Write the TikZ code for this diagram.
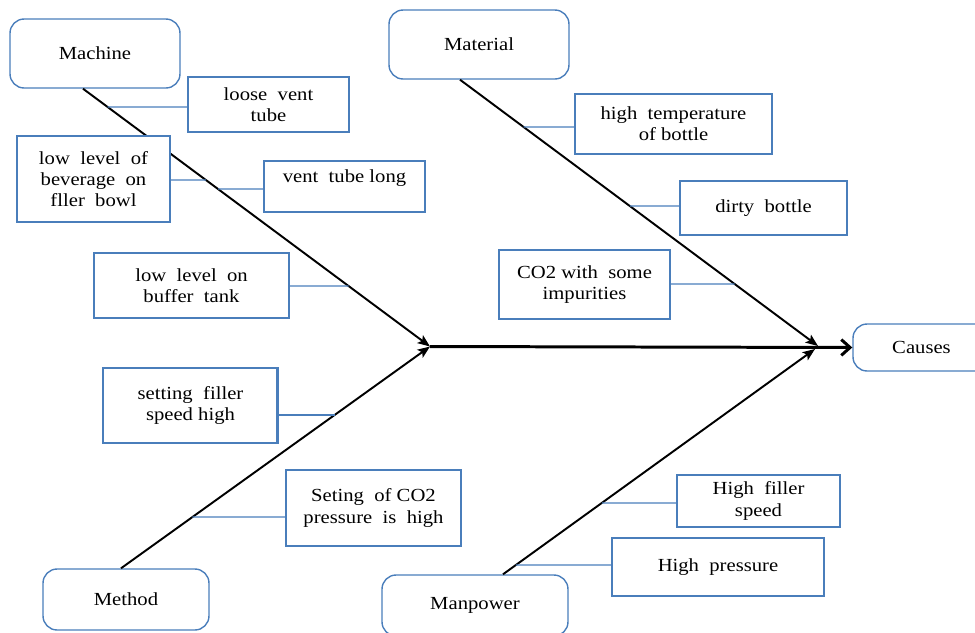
\documentclass[tikz,border=0pt]{standalone}
\usepackage{fontspec}
\setmainfont[FakeStretch=1.12]{Liberation Serif}
\usetikzlibrary{arrows.meta}
\definecolor{boxblue}{HTML}{4A7EBB}
\newcommand\branchline[4]{%
  \path (#1 |- 0,#2) coordinate (ba) (0,#2) coordinate (bb);
  \draw[branch] (ba) -- (intersection of #3--#4 and ba--bb);}
\begin{document}
\begin{tikzpicture}[x=0.02cm,y=-0.02cm,
  font=\fontsize{10.5}{12}\selectfont,
  cat/.style={draw=boxblue,line width=0.8pt,rounded corners=8pt,fill=white,inner sep=0pt,align=center},
  cause/.style={draw=boxblue,line width=0.8pt,fill=white,inner sep=0pt,align=center},
  bone/.style={line width=1.1pt,-{Stealth[length=7pt,width=5.5pt,inset=1.5pt]}},
  spine/.style={line width=1.7pt,-{Straight Barb[length=5pt,width=9pt]}},
  branch/.style={draw=boxblue,line width=0.6pt}]
\useasboundingbox (0,0) rectangle (975,633);
\clip (0,0) rectangle (975,633);

% category boxes
\node[cat,minimum width=3.4cm,minimum height=1.38cm] (machine) at (95,53.5) {Machine};
\node[cat,minimum width=3.6cm,minimum height=1.38cm] (material) at (479,44.5) {Material};
\node[cat,minimum width=3.32cm,minimum height=1.22cm] (method) at (126,599.5) {Method};
\node[cat,minimum width=3.72cm,minimum height=1.22cm] (manpower) at (475,605.5) {Manpower};
\node[cat,minimum width=2.74cm,minimum height=0.94cm] (causes) at (921.5,347.5) {Causes};

% bone coordinates
\coordinate (m0) at ([xshift=-0.24cm]machine.south);
\coordinate (ma0) at ([xshift=-0.38cm]material.south);
\coordinate (me0) at ([xshift=-0.1cm]method.north);
\coordinate (mp0) at ([xshift=0.56cm]manpower.north);
\coordinate (hd) at (430,346.5);
\coordinate (tl) at (818,346);
\coordinate (tl2) at (815,349);

\draw[bone] (m0) -- (hd);
\draw[bone] (me0) -- (hd);
\draw[bone] (ma0) -- (tl);
\draw[bone] (mp0) -- (tl2);
\draw[spine] (hd) -- (causes.west);

% cause boxes
\node[cause,minimum width=3.22cm,minimum height=1.1cm] (loose) at (268.5,104.5) {loose\ \ vent\\tube};
\node[cause,minimum width=3.06cm,minimum height=1.72cm] (bev) at (93.5,179) {low\ \ level\ \ of\\beverage\ \ on\\fller\ \ bowl};
\node[cause,minimum width=3.22cm,minimum height=1.02cm] (vlong) at (344.5,186.5) {vent\ \ tube long\\\mbox{}};
\node[cause,minimum width=3.9cm,minimum height=1.3cm] (buffer) at (191.5,285.5) {low\ \ level\ \ on\\buffer\ \ tank};
\node[cause,minimum width=3.94cm,minimum height=1.2cm] (htemp) at (673.5,124) {high\ \ temperature\\of bottle};
\node[cause,minimum width=3.34cm,minimum height=1.08cm] (dirty) at (763.5,208) {dirty\ \ bottle};
\node[cause,minimum width=3.42cm,minimum height=1.38cm] (co2imp) at (584.5,284.5) {CO2 with\ \ some\\impurities};
\node[cause,minimum width=3.5cm,minimum height=1.5cm] (setting) at (190.5,405.5) {setting\ \ filler\\speed high};
\node[cause,minimum width=3.5cm,minimum height=1.52cm] (setco2) at (373.5,508) {Seting\ \ of CO2\\pressure\ \ is\ \ high};
\node[cause,minimum width=3.26cm,minimum height=1.04cm] (hfs) at (758.5,501) {High\ \ filler\\speed};
\node[cause,minimum width=4.24cm,minimum height=1.16cm] (hp) at (718,567) {High\ \ pressure};
\draw[boxblue,line width=0.5pt] ([xshift=-0.04cm]setting.north east) -- ([xshift=-0.04cm]setting.south east);

% branches
\branchline{loose.west}{107}{m0}{hd}
\branchline{bev.east}{180}{m0}{hd}
\branchline{vlong.west}{189}{m0}{hd}
\branchline{buffer.east}{286}{m0}{hd}
\branchline{htemp.west}{127}{ma0}{tl}
\branchline{dirty.west}{206}{ma0}{tl}
\branchline{co2imp.east}{284}{ma0}{tl}
\branchline{setting.east}{415}{me0}{hd}
\branchline{setco2.west}{517}{me0}{hd}
\branchline{hfs.west}{503}{mp0}{tl2}
\branchline{hp.west}{565}{mp0}{tl2}
\end{tikzpicture}
\end{document}
